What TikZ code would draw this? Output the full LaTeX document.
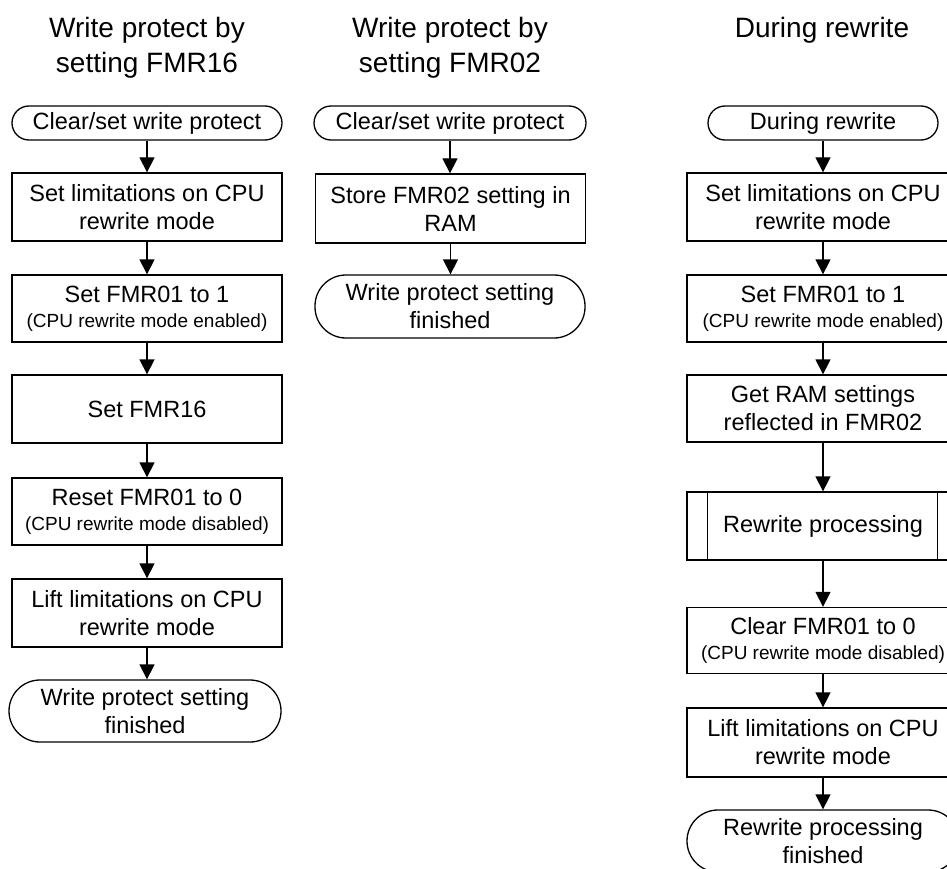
\documentclass[tikz,border=0pt]{standalone}
\usepackage{fontspec}
\setmainfont{Liberation Sans}
\usetikzlibrary{arrows.meta}

\tikzset{
  base/.style={draw, line width=1.3pt, inner sep=0pt, align=center,
    font=\fontsize{23.5}{28}\selectfont},
  stepbox/.style={base, minimum width=270pt, minimum height=68pt},
  wide/.style={base, minimum width=272pt, minimum height=68pt},
  startterm/.style={base, rounded corners=17pt, minimum height=34pt},
  endterm/.style={base, rounded corners=31pt, minimum width=272pt, minimum height=62pt},
  title/.style={align=center, inner sep=0pt, font=\fontsize{28}{35}\selectfont},
  flow/.style={line width=1.3pt, -{Triangle[length=15pt,width=15pt]}},
}
\newcommand{\note}[1]{\\[-3pt]{\fontsize{19}{22}\selectfont #1}}

\begin{document}
\begin{tikzpicture}[x=1pt, y=-1pt]
  \useasboundingbox (0,0) rectangle (947,869);
  \clip (0,0) rectangle (947,869);

  % headings
  \node[title] (h1) at (147,48) {Write protect by\\setting FMR16};
  \node[title] (h2) at (450,48) {Write protect by\\setting FMR02};
  \node[title] (h3) at (822,30) {During rewrite};

  % FMR16 write protect
  \node[startterm, minimum width=270pt] (a0) at (147,123) {Clear/set write protect};
  \node[stepbox] (a1) at (147,207) {Set limitations on CPU\\rewrite mode};
  \node[stepbox, minimum height=67pt] (a2) at (147,308.5) {Set FMR01 to 1\note{(CPU rewrite mode enabled)}};
  \node[stepbox] (a3) at (147,409) {Set FMR16};
  \node[stepbox, minimum height=67pt] (a4) at (147,511.5) {Reset FMR01 to 0\note{(CPU rewrite mode disabled)}};
  \node[stepbox] (a5) at (147,613) {Lift limitations on CPU\\rewrite mode};
  \node[endterm] (a6) at (145,711) {Write protect setting\\finished};

  \foreach \u/\v in {a0/a1, a1/a2, a2/a3, a3/a4, a4/a5, a5/a6}
    \draw[flow] (\u.south) -- (\u.south |- \v.north);

  % FMR02 write protect
  \node[startterm, minimum width=272pt] (b0) at (450,123) {Clear/set write protect};
  \node[stepbox, minimum height=69pt] (b1) at (450.5,208.5) {Store FMR02 setting in\\RAM};
  \node[endterm, minimum width=270pt, minimum height=63pt] (b2) at (450,306.5) {Write protect setting\\finished};

  \draw[flow] (b0.south) -- (b0.south |- b1.north);
  \draw[flow] (b1.south) -- (b1.south |- b2.north);

  % during rewrite
  \node[startterm, minimum width=230pt] (c0) at (823,123) {During rewrite};
  \node[wide] (c1) at (823,207) {Set limitations on CPU\\rewrite mode};
  \node[wide, minimum height=67pt] (c2) at (823,308.5) {Set FMR01 to 1\note{(CPU rewrite mode enabled)}};
  \node[wide, minimum height=67pt] (c3) at (823,408.5) {Get RAM settings\\reflected in FMR02};
  \node[wide] (c4) at (823,526) {Rewrite processing};
  \draw[line width=1.3pt] ([xshift=21pt]c4.north west) -- ([xshift=21pt]c4.south west);
  \draw[line width=1.3pt] ([xshift=-22pt]c4.north east) -- ([xshift=-22pt]c4.south east);
  \node[wide, minimum height=66pt] (c5) at (823,640.5) {Clear FMR01 to 0\note{(CPU rewrite mode disabled)}};
  \node[wide, minimum height=69pt] (c6) at (823,742.5) {Lift limitations on CPU\\rewrite mode};
  \node[endterm] (c7) at (823,841) {Rewrite processing\\finished};

  \foreach \u/\v in {c0/c1, c1/c2, c2/c3, c3/c4, c4/c5, c5/c6, c6/c7}
    \draw[flow] (\u.south) -- (\u.south |- \v.north);
\end{tikzpicture}
\end{document}
